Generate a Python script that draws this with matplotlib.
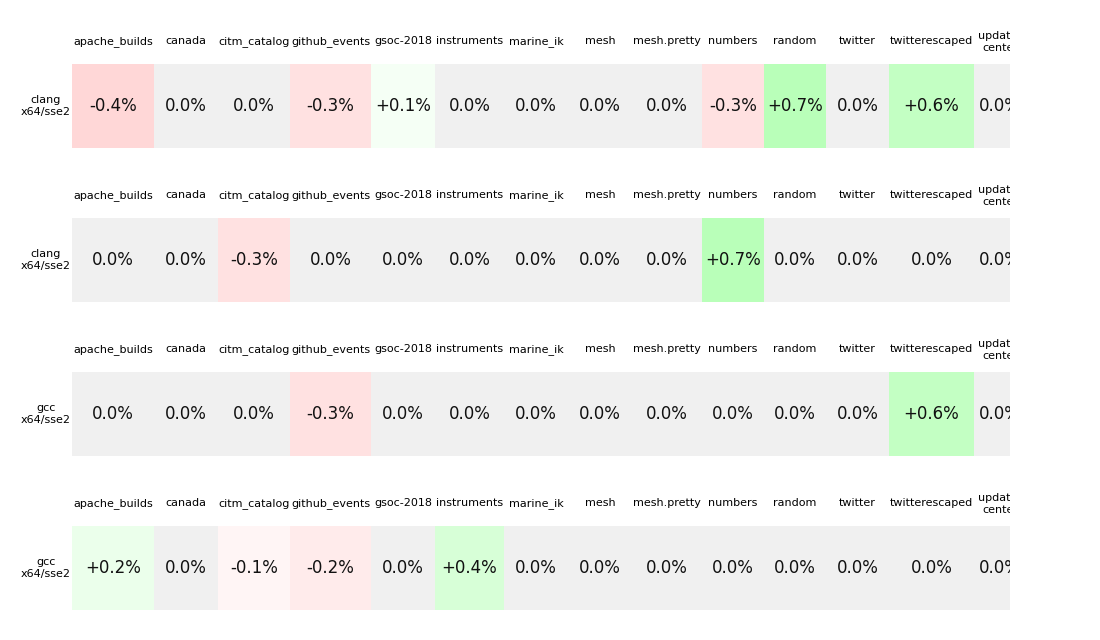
import matplotlib
matplotlib.use('Agg')
import matplotlib.pyplot as plt
from matplotlib.patches import Rectangle

# benchmark files (column headers)
benchmarks = ['apache_builds', 'canada', 'citm_catalog', 'github_events', 'gsoc-2018',
              'instruments', 'marine_ik', 'mesh', 'mesh.pretty', 'numbers', 'random',
              'twitter', 'twitterescaped', 'update-\ncenter']

# one row per compiler/target
row_labels = ['clang\nx64/sse2', 'clang\nx64/sse2', 'gcc\nx64/sse2', 'gcc\nx64/sse2']

# relative change in percent
row1 = [-0.4, 0.0, 0.0, -0.3, 0.1, 0.0, 0.0, 0.0, 0.0, -0.3, 0.7, 0.0, 0.6, 0.0]
row2 = [0.0, 0.0, -0.3, 0.0, 0.0, 0.0, 0.0, 0.0, 0.0, 0.7, 0.0, 0.0, 0.0, 0.0]
row3 = [0.0, 0.0, 0.0, -0.3, 0.0, 0.0, 0.0, 0.0, 0.0, 0.0, 0.0, 0.0, 0.6, 0.0]
row4 = [0.2, 0.0, -0.1, -0.2, 0.0, 0.4, 0.0, 0.0, 0.0, 0.0, 0.0, 0.0, 0.0, 0.0]
rows = [row1, row2, row3, row4]

# layout (pixels)
col_widths = [82, 64, 72, 81, 64, 69, 64, 64, 70, 62, 62, 63, 85, 52]
x0 = 72
group_step = 154
header_y = 40
cell_top = 64
cell_h = 84


def cell_color(v):
    if v == 0:
        return '#f0f0f0'
    d = min(255, abs(v) * 100) / 255.0
    if v > 0:
        return (1 - d, 1.0, 1 - d)
    return (1.0, 1 - d, 1 - d)


def fmt(v):
    if v == 0:
        return '0.0%'
    return '%+.1f%%' % v


fig = plt.figure(figsize=(11, 6.4), dpi=100)
ax = fig.add_axes([0, 0, 1010 / 1100, 1])
ax.set_xlim(0, 1010)
ax.set_ylim(640, 0)
ax.axis('off')

for g, (label, vals) in enumerate(zip(row_labels, rows)):
    off = g * group_step
    x = x0
    for name, w, v in zip(benchmarks, col_widths, vals):
        ax.add_patch(Rectangle((x, cell_top + off), w, cell_h,
                               facecolor=cell_color(v), edgecolor='none', clip_on=True))
        ax.text(x + w / 2, header_y + off, name, ha='center', va='center_baseline',
                fontsize=8, linespacing=1.25, clip_on=True)
        ax.text(x + w / 2, cell_top + off + cell_h / 2 - 2, fmt(v), ha='center',
                va='center_baseline', fontsize=12, color='#111111', clip_on=True)
        x += w
    ax.text(x0 - 1, cell_top + off + cell_h / 2, label, ha='right', va='center',
            multialignment='center', fontsize=8, linespacing=1.2)

fig.savefig('out.png', dpi=100)
